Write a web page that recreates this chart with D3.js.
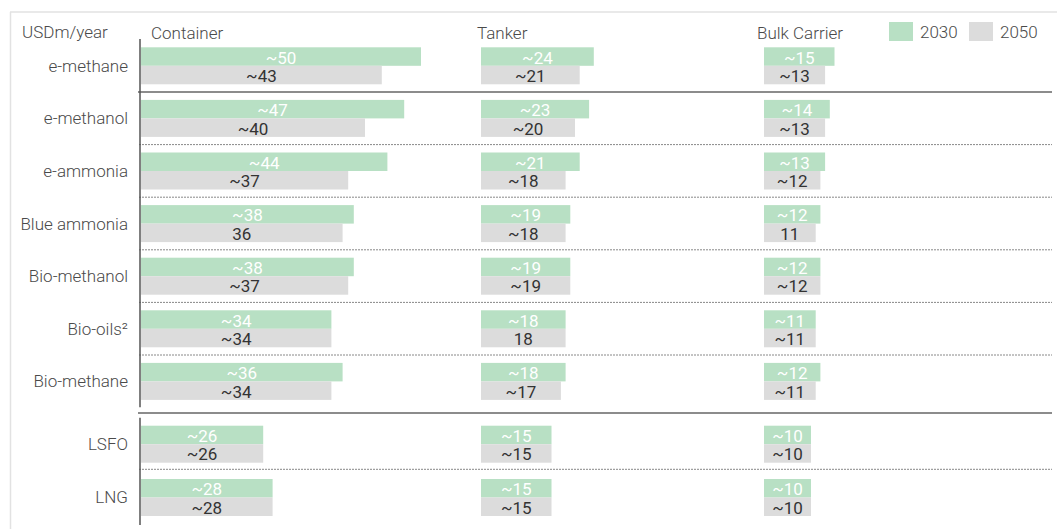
<!DOCTYPE html>
<html>
<head>
    <meta charset="utf-8">
    <title>Fuel cost by vessel type</title>
    <script src="https://d3js.org/d3.v7.min.js"></script>
    <style>
        body { margin: 0; background: #fff; }
        svg text { font-family: Roboto, "Liberation Sans", sans-serif; }
        .frame { stroke: #e2e2e2; stroke-width: 1.5px; }
        .axis { stroke: #555; stroke-width: 1.5px; }
        .sep-solid { stroke: #666; stroke-width: 1.5px; }
        .sep-dot { stroke: #888; stroke-width: 1px; stroke-dasharray: 2,1; }
        .cat { font-size: 17px; font-weight: 300; fill: #4a4a4a; }
        .title { font-size: 17px; font-weight: 300; fill: #4a4a4a; }
        .val { font-size: 17px; }
    </style>
</head>
<body>
<div id="chart"></div>

<script>
// fuels, split in the two blocks of the chart
const fuelsGreen = ["e-methane", "e-methanol", "e-ammonia", "Blue ammonia", "Bio-methanol", "Bio-oils²", "Bio-methane"];
const fuelsFossil = ["LSFO", "LNG"];
const vessels = ["Container", "Tanker", "Bulk Carrier"];
const years = ["2030", "2050"];

// USDm/year, order follows fuelsGreen then fuelsFossil
const container2030 = [50, 47, 44, 38, 38, 34, 36, 26, 28];
const container2050 = [43, 40, 37, 36, 37, 34, 34, 26, 28];
const tanker2030    = [24, 23, 21, 19, 19, 18, 18, 15, 15];
const tanker2050    = [21, 20, 18, 18, 19, 18, 17, 15, 15];
const bulk2030      = [15, 14, 13, 12, 12, 11, 12, 10, 10];
const bulk2050      = [13, 13, 12, 11, 12, 11, 11, 10, 10];

// values printed without the "~"
const exact2050 = { "Container|Blue ammonia": true, "Tanker|Bio-oils²": true, "Bulk Carrier|Blue ammonia": true };

const series = {
    "Container": [container2030, container2050],
    "Tanker": [tanker2030, tanker2050],
    "Bulk Carrier": [bulk2030, bulk2050]
};

const colors = { "2030": "#b8e0c4", "2050": "#dcdcdc" };
const textColors = { "2030": "#ffffff", "2050": "#333333" };

const width = 1057, height = 529;
const svg = d3.select("#chart").append("svg")
    .attr("width", width)
    .attr("height", height);

// frame
svg.append("line").attr("class", "frame").attr("x1", 10).attr("x2", width).attr("y1", 12).attr("y2", 12);
svg.append("line").attr("class", "frame").attr("x1", 10.5).attr("x2", 10.5).attr("y1", 12).attr("y2", height);

// panel start positions
const panelX = { "Container": 141, "Tanker": 481, "Bulk Carrier": 764 };
const titleX = { "Container": 151, "Tanker": 477, "Bulk Carrier": 757 };

// the container block on top is drawn at a larger scale than the rest
const xBig = d3.scaleLinear().domain([0, 50]).range([0, 280]);
const xSmall = d3.scaleLinear().domain([0, 10]).range([0, 47]);

const yGreen = d3.scaleBand().domain(fuelsGreen).range([40, 40 + 7 * 52.6]);
const yFossil = d3.scaleBand().domain(fuelsFossil).range([418, 418 + 2 * 53.3]);

const barH = 18.5;

function rowTop(fuel) {
    return fuelsGreen.includes(fuel) ? yGreen(fuel) + 7.3 : yFossil(fuel) + 7.7;
}

// header texts
svg.append("text").attr("class", "title").attr("x", 22).attr("y", 38).text("USDm/year");
vessels.forEach(v => {
    svg.append("text").attr("class", "title").attr("x", titleX[v]).attr("y", 38.5).text(v);
});

// legend
const legend = svg.append("g");
const legX = { "2030": 889, "2050": 969 };
years.forEach(yr => {
    legend.append("rect").attr("x", legX[yr]).attr("y", 22).attr("width", 24).attr("height", 19).attr("fill", colors[yr]);
    legend.append("text").attr("x", legX[yr] + 31).attr("y", 38.2)
        .style("font-size", "17px").style("font-weight", 300).attr("fill", "#4a4a4a").text(yr);
});

// separators
const sepX1 = 139, sepX2 = 1052;
fuelsGreen.slice(0, -1).forEach((f, i) => {
    const y = yGreen(f) + 52;
    svg.append("line").attr("class", i === 0 ? "sep-solid" : "sep-dot")
        .attr("x1", i === 0 ? 138 : sepX1).attr("x2", sepX2).attr("y1", y).attr("y2", y);
});
svg.append("line").attr("class", "sep-solid").attr("x1", 138).attr("x2", sepX2).attr("y1", 413).attr("y2", 413);
svg.append("line").attr("class", "sep-dot").attr("x1", sepX1).attr("x2", sepX2)
    .attr("y1", yFossil("LSFO") + 51.3).attr("y2", yFossil("LSFO") + 51.3);

// category labels
const allFuels = fuelsGreen.concat(fuelsFossil);
svg.selectAll(".cat").data(allFuels).enter().append("text")
    .attr("class", "cat")
    .attr("x", 128)
    .attr("y", d => rowTop(d) + barH)
    .attr("dy", "0.35em")
    .attr("text-anchor", "end")
    .text(d => d);

// bars
vessels.forEach(v => {
    const x0 = panelX[v];
    const data = [];
    allFuels.forEach((f, i) => {
        years.forEach((yr, k) => {
            data.push({ vessel: v, fuel: f, year: yr, k: k, value: series[v][k][i] });
        });
    });
    const scaleFor = d => (v === "Container" && fuelsGreen.includes(d.fuel)) ? xBig : xSmall;

    const g = svg.append("g");
    g.selectAll("rect").data(data).enter().append("rect")
        .attr("x", x0)
        .attr("y", d => rowTop(d.fuel) + d.k * barH)
        .attr("width", d => scaleFor(d)(d.value))
        .attr("height", barH)
        .attr("fill", d => colors[d.year]);

    g.selectAll("text").data(data).enter().append("text")
        .attr("class", "val")
        .attr("x", d => x0 + scaleFor(d)(d.value) / 2)
        .attr("y", d => rowTop(d.fuel) + d.k * barH + barH / 2 + 1)
        .attr("dy", "0.35em")
        .attr("text-anchor", "middle")
        .attr("fill", d => textColors[d.year])
        .text(d => (d.k === 1 && exact2050[v + "|" + d.fuel] ? "" : "~") + d.value);
});

// value axis of the container panel, one piece per block
svg.append("line").attr("class", "axis").attr("x1", 140).attr("x2", 140).attr("y1", 39).attr("y2", 407.3);
svg.append("line").attr("class", "axis").attr("x1", 140).attr("x2", 140).attr("y1", 417.7).attr("y2", 525);
</script>
</body>
</html>
